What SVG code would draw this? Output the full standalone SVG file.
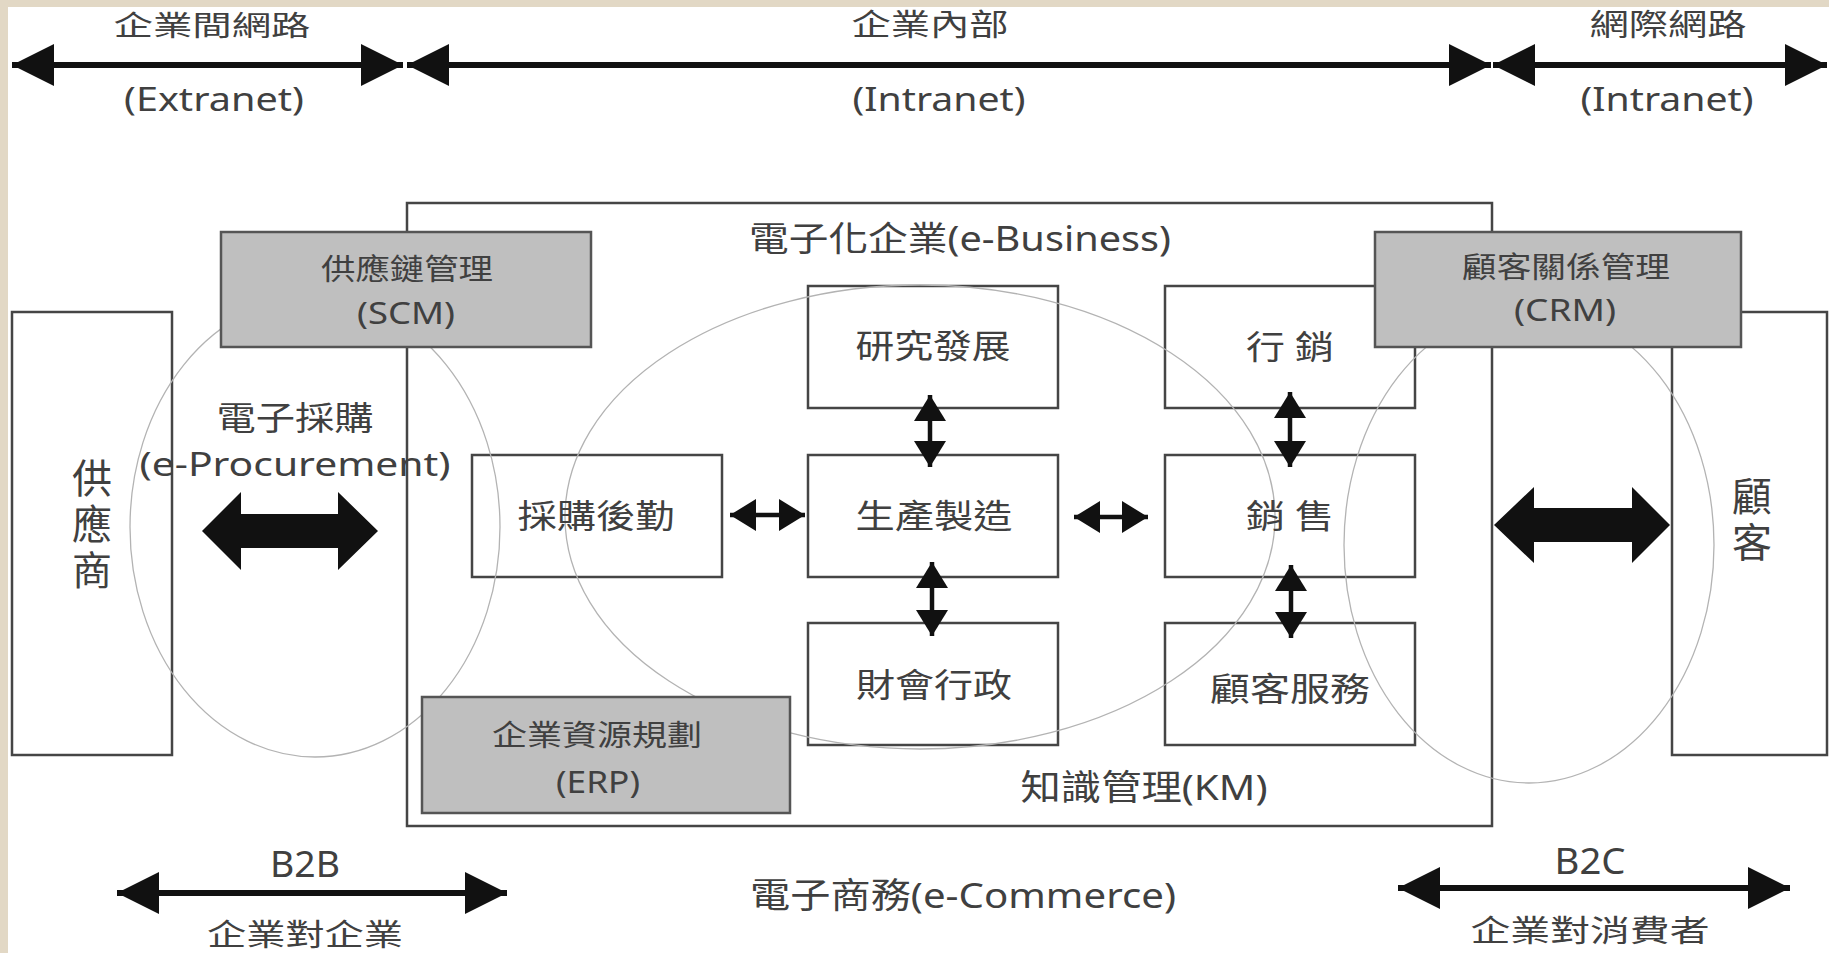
<svg xmlns="http://www.w3.org/2000/svg" width="1829" height="953" viewBox="0 0 1829 953">
<defs>
<style>
.t{font-family:"Noto Sans","Noto Sans CJK TC",sans-serif;fill:#404040;text-anchor:middle}
.v{font-family:"Noto Sans CJK TC",sans-serif;fill:#404040;writing-mode:vertical-rl;text-anchor:start;letter-spacing:6px}
.box{fill:#fff;stroke:#454545;stroke-width:2.5}
.gbox{fill:#bfbfbf;stroke:#555;stroke-width:2.5}
.ell{fill:none;stroke:#b3b3b3;stroke-width:1.3}
.big{stroke:#111;stroke-width:6;fill:none}
.sm{stroke:#111;stroke-width:4.5;fill:none}
.fat{fill:#111}
</style>
<marker id="hb" markerUnits="userSpaceOnUse" viewBox="0 0 42 42" refX="42" refY="21" markerWidth="42" markerHeight="42" orient="auto-start-reverse">
<path d="M0,0 L42,21 L0,42 z" fill="#111"/>
</marker>
<marker id="hs" markerUnits="userSpaceOnUse" viewBox="0 0 26 32" refX="26" refY="16" markerWidth="26" markerHeight="32" orient="auto-start-reverse">
<path d="M0,0 L26,16 L0,32 z" fill="#111"/>
</marker>
</defs>
<rect x="0" y="0" width="1829" height="953" fill="#fff"/>
<rect x="0" y="0" width="1829" height="7" fill="#e2d8c5"/>
<rect x="0" y="0" width="8" height="953" fill="#e2d8c5"/>

<g id="ebusiness"><rect class="box" x="407" y="203" width="1085" height="623"/></g>
<g id="supplier"><rect class="box" x="12" y="312" width="160" height="443"/></g>
<g id="customer"><rect class="box" x="1672" y="312" width="155" height="443"/></g>
<g id="rd"><rect class="box" x="808" y="286" width="250" height="122"/></g>
<g id="purchase"><rect class="box" x="472" y="455" width="250" height="122"/></g>
<g id="production"><rect class="box" x="808" y="455" width="250" height="122"/></g>
<g id="finance"><rect class="box" x="808" y="623" width="250" height="122"/></g>
<g id="marketing"><rect class="box" x="1165" y="286" width="250" height="122"/></g>
<g id="sales"><rect class="box" x="1165" y="455" width="250" height="122"/></g>
<g id="service"><rect class="box" x="1165" y="623" width="250" height="122"/></g>

<g id="ellipses">
<ellipse class="ell" cx="315" cy="527" rx="185" ry="230"/>
<ellipse class="ell" cx="920" cy="517" rx="355" ry="232"/>
<ellipse class="ell" cx="1529" cy="545" rx="185" ry="238"/>
</g>

<g id="scm"><rect class="gbox" x="221" y="232" width="370" height="115"/>
<text class="t" x="407" y="280" font-size="29" textLength="172" lengthAdjust="spacingAndGlyphs">供應鏈管理</text>
<text class="t" x="406" y="324" font-size="31" textLength="98" lengthAdjust="spacingAndGlyphs">(SCM)</text></g>
<g id="crm"><rect class="gbox" x="1375" y="232" width="366" height="115"/>
<text class="t" x="1566" y="278" font-size="29" textLength="208" lengthAdjust="spacingAndGlyphs">顧客關係管理</text>
<text class="t" x="1565" y="321" font-size="31" textLength="102" lengthAdjust="spacingAndGlyphs">(CRM)</text></g>
<g id="erp"><rect class="gbox" x="422" y="697" width="368" height="116"/>
<text class="t" x="597" y="746" font-size="29" textLength="210" lengthAdjust="spacingAndGlyphs">企業資源規劃</text>
<text class="t" x="598" y="793" font-size="31" textLength="84" lengthAdjust="spacingAndGlyphs">(ERP)</text></g>

<g id="labels">
<text class="t" x="212" y="36" font-size="28" textLength="197" lengthAdjust="spacingAndGlyphs">企業間網路</text>
<text class="t" x="214" y="111" font-size="33" textLength="180" lengthAdjust="spacingAndGlyphs">(Extranet)</text>
<text class="t" x="930" y="35" font-size="30" textLength="157" lengthAdjust="spacingAndGlyphs">企業內部</text>
<text class="t" x="939" y="111" font-size="33" textLength="173" lengthAdjust="spacingAndGlyphs">(Intranet)</text>
<text class="t" x="1668" y="35" font-size="30" textLength="157" lengthAdjust="spacingAndGlyphs">網際網路</text>
<text class="t" x="1667" y="111" font-size="33" textLength="173" lengthAdjust="spacingAndGlyphs">(Intranet)</text>
<text class="t" x="960" y="251" font-size="34" textLength="422" lengthAdjust="spacingAndGlyphs">電子化企業(e-Business)</text>
<text class="t" x="933" y="358" font-size="33" textLength="155" lengthAdjust="spacingAndGlyphs">研究發展</text>
<text class="t" x="596" y="528" font-size="33" textLength="157" lengthAdjust="spacingAndGlyphs">採購後勤</text>
<text class="t" x="934" y="528" font-size="33" textLength="157" lengthAdjust="spacingAndGlyphs">生產製造</text>
<text class="t" x="934" y="697" font-size="33" textLength="156" lengthAdjust="spacingAndGlyphs">財會行政</text>
<text class="t" x="1290" y="359" font-size="33" textLength="88" lengthAdjust="spacingAndGlyphs">行 銷</text>
<text class="t" x="1290" y="528" font-size="33" textLength="88" lengthAdjust="spacingAndGlyphs">銷 售</text>
<text class="t" x="1290" y="701" font-size="33" textLength="160" lengthAdjust="spacingAndGlyphs">顧客服務</text>
<text class="t" x="1144" y="800" font-size="35" textLength="247" lengthAdjust="spacingAndGlyphs">知識管理(KM)</text>
<text class="t" x="963" y="908" font-size="35" textLength="426" lengthAdjust="spacingAndGlyphs">電子商務(e-Commerce)</text>
<text class="t" x="305" y="877" font-size="36" textLength="70" lengthAdjust="spacingAndGlyphs">B2B</text>
<text class="t" x="305" y="945" font-size="30" textLength="196" lengthAdjust="spacingAndGlyphs">企業對企業</text>
<text class="t" x="1590" y="874" font-size="36" textLength="71" lengthAdjust="spacingAndGlyphs">B2C</text>
<text class="t" x="1590" y="941" font-size="30" textLength="239" lengthAdjust="spacingAndGlyphs">企業對消費者</text>
<text class="t" x="295" y="430" font-size="33" textLength="157" lengthAdjust="spacingAndGlyphs">電子採購</text>
<text class="t" x="295" y="476" font-size="33" textLength="311" lengthAdjust="spacingAndGlyphs">(e-Procurement)</text>
<text class="v" x="92" y="458" font-size="40">供應商</text>
<text class="v" x="1752" y="476" font-size="40">顧客</text>
</g>

<g id="connectors">
<line class="big" x1="12" y1="65" x2="403" y2="65" marker-start="url(#hb)" marker-end="url(#hb)"/>
<line class="big" x1="407" y1="65" x2="1491" y2="65" marker-start="url(#hb)" marker-end="url(#hb)"/>
<line class="big" x1="1493" y1="65" x2="1827" y2="65" marker-start="url(#hb)" marker-end="url(#hb)"/>
<line class="big" x1="117" y1="893" x2="507" y2="893" marker-start="url(#hb)" marker-end="url(#hb)"/>
<line class="big" x1="1398" y1="888" x2="1790" y2="888" marker-start="url(#hb)" marker-end="url(#hb)"/>
<line class="sm" x1="730" y1="515" x2="805" y2="515" marker-start="url(#hs)" marker-end="url(#hs)"/>
<line class="sm" x1="1074" y1="517" x2="1148" y2="517" marker-start="url(#hs)" marker-end="url(#hs)"/>
<line class="sm" x1="930" y1="395" x2="930" y2="467" marker-start="url(#hs)" marker-end="url(#hs)"/>
<line class="sm" x1="932" y1="562" x2="932" y2="636" marker-start="url(#hs)" marker-end="url(#hs)"/>
<line class="sm" x1="1290" y1="392" x2="1290" y2="467" marker-start="url(#hs)" marker-end="url(#hs)"/>
<line class="sm" x1="1291" y1="565" x2="1291" y2="638" marker-start="url(#hs)" marker-end="url(#hs)"/>
<polygon class="fat" points="202,531 241,492 241,514 338,514 338,492 378,531 338,570 338,548 241,548 241,570"/>
<polygon class="fat" points="1494,525 1534,487 1534,508 1632,508 1632,487 1670,525 1632,563 1632,542 1534,542 1534,563"/>
</g>
</svg>
